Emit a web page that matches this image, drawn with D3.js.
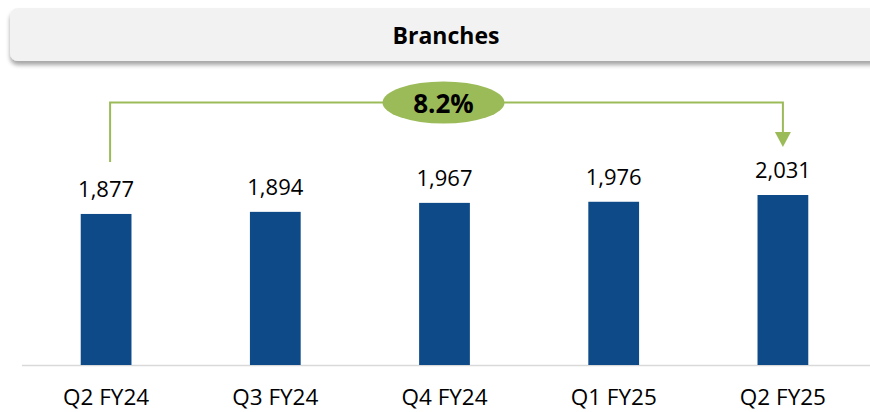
<!DOCTYPE html>
<html>
<head>
<meta charset="utf-8">
<script src="https://cdn.jsdelivr.net/npm/d3@7"></script>
<style>
  body { margin: 0; background: #fff; }
  text { font-family: "Open Sans", "Noto Sans", sans-serif; }
</style>
</head>
<body>
<div id="chart"></div>
<script>
// chart data
var title = "Branches";
var quarters = ["Q2 FY24", "Q3 FY24", "Q4 FY24", "Q1 FY25", "Q2 FY25"];
var branches = [1877, 1894, 1967, 1976, 2031];
var growthLabel = "8.2%";
var axisMin = 650; // value axis does not start at zero in the source

var width = 870, height = 412;
var baseY = 365;

var svg = d3.select("#chart").append("svg")
  .attr("width", width)
  .attr("height", height);

// shadow for the header strip
var defs = svg.append("defs");
var f = defs.append("filter").attr("id", "shadow")
  .attr("x", "-5%").attr("y", "-20%").attr("width", "110%").attr("height", "160%");
f.append("feDropShadow")
  .attr("dx", 0).attr("dy", 4).attr("stdDeviation", 2)
  .attr("flood-color", "#000").attr("flood-opacity", 0.35);

svg.append("rect")
  .attr("x", 10).attr("y", 8)
  .attr("width", 880).attr("height", 53)
  .attr("rx", 8)
  .attr("fill", "#f2f2f2")
  .attr("filter", "url(#shadow)");

svg.append("text")
  .attr("x", 446).attr("y", 44)
  .attr("text-anchor", "middle")
  .style("font-size", "23px")
  .style("font-weight", "bold")
  .attr("fill", "#000")
  .text(title);

// scales
var x = d3.scaleBand()
  .domain(quarters)
  .range([21.5, 867.5])
  .paddingInner(0.7)
  .paddingOuter(0.35);

var y = d3.scaleLinear()
  .domain([axisMin, 2031])
  .range([baseY, 195]);

// baseline
svg.append("line")
  .attr("x1", 22).attr("x2", width)
  .attr("y1", baseY + 0.5).attr("y2", baseY + 0.5)
  .attr("stroke", "#d9d9d9")
  .attr("stroke-width", 1.5);

// bars
svg.selectAll(".bar")
  .data(branches)
  .enter()
  .append("rect")
  .attr("class", "bar")
  .attr("x", function (d, i) { return x(quarters[i]); })
  .attr("y", function (d) { return y(d); })
  .attr("width", x.bandwidth())
  .attr("height", function (d) { return baseY - y(d); })
  .attr("fill", "#0d4a87");

// value labels
svg.selectAll(".val")
  .data(branches)
  .enter()
  .append("text")
  .attr("class", "val")
  .attr("x", function (d, i) { return x(quarters[i]) + x.bandwidth() / 2; })
  .attr("y", function (d) { return y(d) - 17; })
  .attr("text-anchor", "middle")
  .style("font-size", "22px")
  .attr("fill", "#000")
  .text(function (d) { return d3.format(",")(d); });

// category labels
svg.selectAll(".cat")
  .data(quarters)
  .enter()
  .append("text")
  .attr("class", "cat")
  .attr("x", function (d) { return x(d) + x.bandwidth() / 2; })
  .attr("y", 405)
  .attr("text-anchor", "middle")
  .style("font-size", "22.5px")
  .attr("fill", "#000")
  .text(function (d) { return d; });

// growth bracket from first to last quarter
var green = "#9bbb59";
var first = quarters[0], last = quarters[quarters.length - 1];
var lx = x(first) + x.bandwidth() / 2 + 4;
var rx = x(last) + x.bandwidth() / 2;
var topY = 102.5;
var leftBottom = y(branches[0]) - 52;
var tipY = y(branches[branches.length - 1]) - 48;

svg.append("path")
  .attr("d", d3.line()([[lx, leftBottom], [lx, topY], [rx, topY], [rx, tipY - 14]]))
  .attr("fill", "none")
  .attr("stroke", green)
  .attr("stroke-width", 2);

svg.append("path")
  .attr("d", d3.line()([[rx - 8, tipY - 15], [rx + 8, tipY - 15], [rx, tipY]]) + "Z")
  .attr("fill", green);

var mid = (x(quarters[2]) + x.bandwidth() / 2) - 1;
svg.append("ellipse")
  .attr("cx", mid).attr("cy", topY)
  .attr("rx", 61).attr("ry", 21)
  .attr("fill", green);

svg.append("text")
  .attr("x", mid).attr("y", topY + 10)
  .attr("text-anchor", "middle")
  .style("font-size", "26px")
  .style("font-weight", "bold")
  .attr("fill", "#000")
  .text(growthLabel);
</script>
</body>
</html>
